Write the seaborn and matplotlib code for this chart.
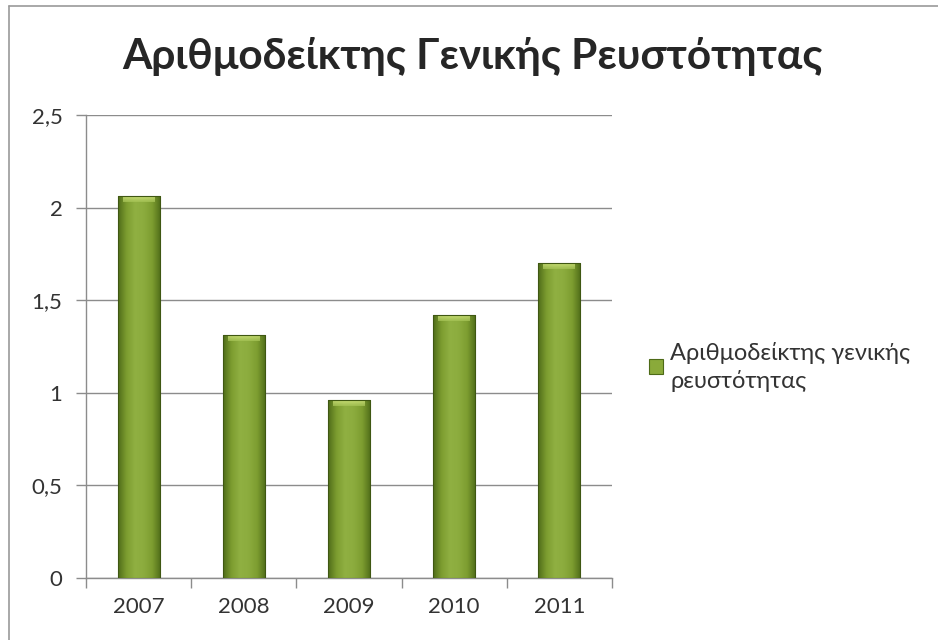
import numpy as np
import pandas as pd
import matplotlib
matplotlib.use("Agg")
import matplotlib.pyplot as plt
import seaborn as sns
from matplotlib.colors import LinearSegmentedColormap
from matplotlib.lines import Line2D
from matplotlib.patches import Patch
from matplotlib.ticker import FuncFormatter, FixedLocator

years = ["2007", "2008", "2009", "2010", "2011"]
ratio = [2.06, 1.31, 0.96, 1.42, 1.70]
series_name = "Αριθμοδείκτης γενικής\nρευστότητας"
title = "Αριθμοδείκτης Γενικής Ρευστότητας"
y_ticks = [0, 0.5, 1, 1.5, 2, 2.5]

sns.set_theme(style="white")
plt.rcParams["font.family"] = ["Lato", "Open Sans", "DejaVu Sans"]

df = pd.DataFrame({"year": years, "ratio": ratio})

fig = plt.figure(figsize=(9.38, 6.4), dpi=100)
ax = fig.add_axes([0.0917, 0.0969, 0.5608, 0.7234])

sns.barplot(data=df, x="year", y="ratio", color="#8aaa3a", width=0.4, ax=ax,
            edgecolor="none", zorder=3)

# cylindrical shading on each bar
side = LinearSegmentedColormap.from_list(
    "side", ["#4f6c19", "#7d9d30", "#90b042", "#8cac3e", "#7d9d30", "#4f6c19"])
grad = np.linspace(0, 1, 256).reshape(1, -1)
top = LinearSegmentedColormap.from_list("top", ["#d2e67e", "#a4c255"])
for bar in ax.patches:
    x0, y0 = bar.get_x(), bar.get_y()
    w, h = bar.get_width(), bar.get_height()
    bar.set_facecolor("none")
    im = ax.imshow(grad, cmap=side, aspect="auto", extent=[x0, x0 + w, y0, y0 + h],
                   zorder=3, interpolation="bicubic")
    im.set_clip_path(bar)
    cap = 0.03
    tv = np.linspace(0, 1, 64).reshape(-1, 1)
    ax.imshow(tv, cmap=top, aspect="auto",
              extent=[x0 + w * 0.12, x0 + w * 0.88, y0 + h - cap, y0 + h - 0.006],
              zorder=4, interpolation="bicubic", alpha=0.75)
    ax.add_patch(plt.Rectangle((x0, y0), w, h, fill=False, edgecolor="#3f5712",
                               linewidth=0.8, zorder=5))

ax.set_xlim(-0.5, len(years) - 0.5)
ax.set_ylim(0, 2.5)
ax.yaxis.set_major_locator(FixedLocator(y_ticks))
ax.yaxis.set_major_formatter(FuncFormatter(lambda v, p: f"{v:g}".replace(".", ",")))
ax.grid(axis="y", color="#8c8c8c", linewidth=1.0, zorder=0)
ax.set_axisbelow(True)
for s in ["top", "right"]:
    ax.spines[s].set_visible(False)
for s in ["left", "bottom"]:
    ax.spines[s].set_color("#8c8c8c")
    ax.spines[s].set_linewidth(1.0)

ax.set_xlabel("")
ax.set_ylabel("")
ax.tick_params(axis="y", which="major", left=True, length=7, width=1.0,
               color="#8c8c8c", labelsize=16, labelcolor="#333333", pad=10)
ax.tick_params(axis="x", which="major", bottom=False, length=0, labelsize=16,
               labelcolor="#333333", pad=14)
ax.set_xticks(np.arange(-0.5, len(years)), minor=True)
ax.tick_params(axis="x", which="minor", bottom=True, length=7, width=1.0,
               color="#8c8c8c")

fig.text(0.5035, 0.911, title, ha="center", va="center", fontsize=30.5,
         fontweight="bold", color="#262626")

handle = Patch(facecolor="#8aaa3a", edgecolor="#4d6a17", linewidth=0.8)
leg = fig.legend([handle], [series_name], loc="center left",
                 bbox_to_anchor=(0.669, 0.427), frameon=False, fontsize=17,
                 handlelength=0.6, handleheight=0.6, handletextpad=0.3,
                 labelcolor="#333333")
for t in leg.get_texts():
    t.set_linespacing(1.35)

# chart frame
fig.add_artist(Line2D([0.0096, 1.0], [0.9906, 0.9906], color="#9a9a9a", linewidth=1.2,
                      transform=fig.transFigure))
fig.add_artist(Line2D([0.0096, 0.0096], [0.0, 0.9906], color="#9a9a9a", linewidth=1.2,
                      transform=fig.transFigure))

fig.savefig("out.png", dpi=100, facecolor="white")
